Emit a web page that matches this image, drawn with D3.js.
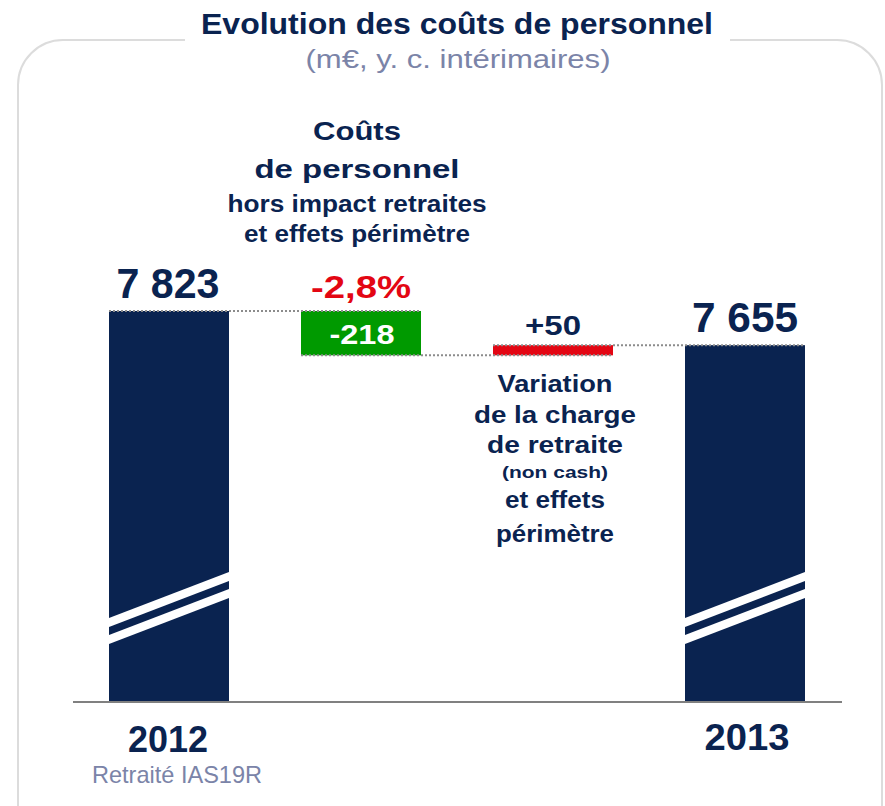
<!DOCTYPE html>
<html lang="fr">
<head>
<meta charset="UTF-8">
<title>Evolution des coûts de personnel</title>
<script src="https://d3js.org/d3.v7.min.js"></script>
<style>
  body { margin: 0; padding: 0; background: #fff; }
  text { font-family: "Liberation Sans", Arial, sans-serif; }
</style>
</head>
<body>
<script>
// chart data
const steps = ['2012', 'Coûts de personnel', 'Charge de retraite', '2013'];
const values = [7823, -218, 50, 7655];
const kinds = ['total', 'delta', 'delta', 'total'];
const valueLabels = ['7 823', '-218', '+50', '7 655'];
const pctLabel = '-2,8%';
const yearLabels = ['2012', '2013'];
const noteLabel = 'Retraité IAS19R';
const baseValue = 5900; // broken axis: bars start here

const width = 885, height = 806;
const navy = '#0a2350', green = '#009a00', red = '#e30613', greyBlue = '#7b84a8';

const svg = d3.select('body').append('svg')
    .attr('width', width)
    .attr('height', height);

// helper for text with a fixed width (the source font is wider than Arial)
function label(x, y, txt, size, len, color, bold) {
    const t = svg.append('text')
        .attr('x', x).attr('y', y)
        .attr('text-anchor', 'middle')
        .attr('font-size', size)
        .attr('font-weight', bold === false ? 'normal' : 'bold')
        .attr('fill', color)
        .text(txt);
    if (len) t.attr('textLength', len).attr('lengthAdjust', 'spacingAndGlyphs');
    return t;
}

// frame
svg.append('rect')
    .attr('x', 18).attr('y', 40)
    .attr('width', 864).attr('height', 820)
    .attr('rx', 45).attr('ry', 45)
    .attr('fill', 'none')
    .attr('stroke', '#dcdcdc')
    .attr('stroke-width', 2);

svg.append('rect')
    .attr('x', 185).attr('y', 0)
    .attr('width', 545).attr('height', 48)
    .attr('fill', '#fff');

label(457, 34, 'Evolution des coûts de personnel', 30, 512, navy);
label(458, 68, '(m€, y. c. intérimaires)', 25, 305, greyBlue, false);

// scales
const x = d3.scaleBand()
    .domain(steps)
    .range([73, 841])
    .paddingInner(0.375)
    .paddingOuter(0.1875);

const y = d3.scaleLinear()
    .domain([baseValue, 7823])
    .range([702, 311]);

// waterfall layout
let running = 0;
const bars = steps.map((s, i) => {
    let y0, y1;
    if (kinds[i] === 'total') {
        y0 = baseValue; y1 = values[i]; running = values[i];
    } else {
        y0 = running; y1 = running + values[i]; running = y1;
    }
    return { step: s, i, kind: kinds[i], value: values[i], lo: Math.min(y0, y1), hi: Math.max(y0, y1), end: y1 };
});

const barColor = d => d.kind === 'total' ? navy : (d.value < 0 ? green : red);

svg.append('g').selectAll('rect')
    .data(bars)
    .enter().append('rect')
    .attr('x', d => x(d.step))
    .attr('y', d => y(d.hi))
    .attr('width', x.bandwidth())
    .attr('height', d => y(d.lo) - y(d.hi))
    .attr('fill', barColor);

// break marks on total bars
const bw = x.bandwidth();
bars.filter(d => d.kind === 'total').forEach(d => {
    const x0 = x(d.step), x1 = x0 + bw;
    const yb = y(baseValue);
    [[-84, -75], [-67, -58]].forEach(([a, b]) => {
        svg.append('polygon')
            .attr('points', [
                [x0, yb + a], [x1, yb + a - 46],
                [x1, yb + b - 46], [x0, yb + b]
            ].map(p => p.join(',')).join(' '))
            .attr('fill', '#fff');
    });
});

// dotted connectors
for (let i = 0; i < bars.length - 1; i++) {
    const level = bars[i].kind === 'total' ? bars[i].hi : bars[i].end;
    svg.append('line')
        .attr('x1', x(steps[i])).attr('x2', x(steps[i + 1]) + bw)
        .attr('y1', y(level)).attr('y2', y(level))
        .attr('stroke', '#8c8c8c')
        .attr('stroke-width', 2)
        .attr('stroke-dasharray', '2,2');
}

// axis line
svg.append('line')
    .attr('x1', 73).attr('x2', 842)
    .attr('y1', 702).attr('y2', 702)
    .attr('stroke', '#808080')
    .attr('stroke-width', 2);

// value labels
const cx = s => x(s) + bw / 2;
label(cx(steps[0]) - 1, y(bars[0].hi) - 13, valueLabels[0], 42, 103, navy);
label(cx(steps[3]), y(bars[3].hi) - 13, valueLabels[3], 42, 106, navy);
label(cx(steps[1]) + 1, (y(bars[1].hi) + y(bars[1].lo)) / 2 + 11, valueLabels[1], 28, 65, '#fff');
label(cx(steps[2]), y(bars[2].hi) - 10, valueLabels[2], 28, 56, navy);
label(cx(steps[1]), y(bars[1].hi) - 13, pctLabel, 32, 100, red);

// annotations
const note1 = [
    { t: 'Coûts', s: 26, w: 88, y: 140 },
    { t: 'de personnel', s: 26, w: 205, y: 178 },
    { t: 'hors impact retraites', s: 23, w: 259, y: 212 },
    { t: 'et effets périmètre', s: 23, w: 226, y: 242 }
];
note1.forEach(l => label(357, l.y, l.t, l.s, l.w, navy));

const note2 = [
    { t: 'Variation', s: 23, w: 115, y: 392 },
    { t: 'de la charge', s: 23, w: 162, y: 423 },
    { t: 'de retraite', s: 23, w: 136, y: 453 },
    { t: '(non cash)', s: 17, w: 106, y: 478 },
    { t: 'et effets', s: 23, w: 100, y: 508 },
    { t: 'périmètre', s: 23, w: 118, y: 542 }
];
note2.forEach(l => label(cx(steps[2]) + 2, l.y, l.t, l.s, l.w, navy));

// year labels
label(168, 752, yearLabels[0], 37, 80, navy);
label(747, 750, yearLabels[1], 37, 85, navy);
svg.append('text').attr('x', 92).attr('y', 783)
    .attr('font-size', 24)
    .attr('textLength', 170).attr('lengthAdjust', 'spacingAndGlyphs')
    .attr('fill', greyBlue).text(noteLabel);
</script>
</body>
</html>
